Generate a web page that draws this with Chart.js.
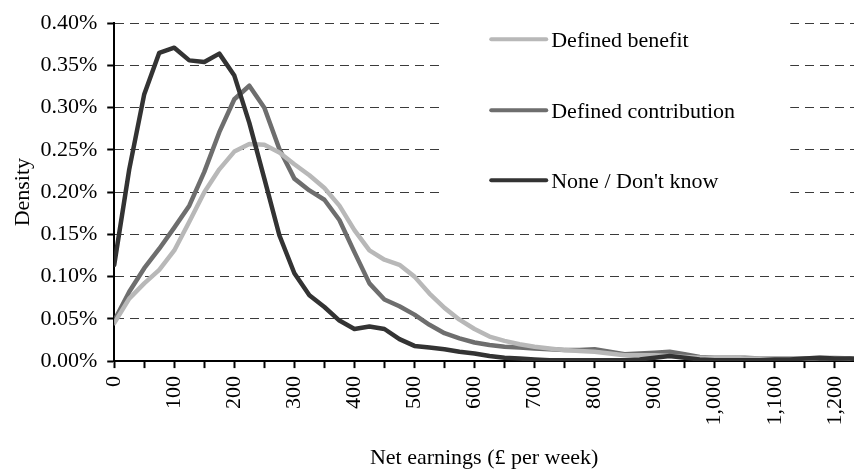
<!DOCTYPE html>
<html>
<head>
<meta charset="utf-8">
<script src="https://cdn.jsdelivr.net/npm/chart.js@4"></script>
<style>
  html, body { margin: 0; padding: 0; background: #fff; }
  #wrap { width: 854px; height: 471px; }
</style>
</head>
<body>
<div id="wrap"><canvas id="Chart" width="854" height="471"></canvas></div>
<script>
// net earnings, £ per week (bin points)
const earnings = [0, 25, 50, 75, 100, 125, 150, 175, 200, 225, 250, 275, 300, 325, 350, 375, 400,
  425, 450, 475, 500, 525, 550, 575, 600, 625, 650, 675, 700, 725, 750, 775, 800,
  825, 850, 875, 900, 925, 950, 975, 1000, 1025, 1050, 1075, 1100, 1125, 1150, 1175, 1200, 1225, 1250];

// density in %
const definedBenefit = [0.045, 0.074, 0.092, 0.108, 0.131, 0.165, 0.200, 0.227, 0.248, 0.257, 0.256, 0.247, 0.233, 0.220, 0.205, 0.184, 0.155,
  0.131, 0.120, 0.114, 0.100, 0.080, 0.063, 0.049, 0.038, 0.029, 0.024, 0.020, 0.017, 0.015, 0.013, 0.012, 0.011,
  0.009, 0.007, 0.007, 0.007, 0.006, 0.005, 0.004, 0.004, 0.004, 0.003, 0.003, 0.003, 0.003, 0.003, 0.004, 0.004, 0.003, 0.003];
const definedContribution = [0.048, 0.082, 0.110, 0.133, 0.158, 0.184, 0.224, 0.271, 0.310, 0.326, 0.300, 0.251, 0.216, 0.202, 0.191, 0.167, 0.129,
  0.092, 0.073, 0.065, 0.055, 0.043, 0.033, 0.027, 0.022, 0.019, 0.017, 0.016, 0.015, 0.014, 0.013, 0.013, 0.014,
  0.011, 0.008, 0.009, 0.010, 0.011, 0.008, 0.005, 0.004, 0.004, 0.004, 0.003, 0.003, 0.003, 0.003, 0.003, 0.003, 0.003, 0.003];
const noneDontKnow = [0.114, 0.227, 0.316, 0.365, 0.371, 0.356, 0.354, 0.364, 0.338, 0.282, 0.216, 0.149, 0.104, 0.078, 0.064, 0.048, 0.038,
  0.041, 0.038, 0.026, 0.018, 0.016, 0.014, 0.011, 0.009, 0.006, 0.004, 0.003, 0.002, 0.001, 0.001, 0.001, 0.001,
  0.001, 0.001, 0.002, 0.004, 0.006, 0.004, 0.002, 0.001, 0.001, 0.001, 0.001, 0.002, 0.002, 0.003, 0.004, 0.003, 0.003, 0.002];

const seriesNames = ['Defined benefit', 'Defined contribution', 'None / Don\'t know'];
const seriesColors = ['#b8b8b8', '#6e6e6e', '#333333'];

const yTicks = [0, 0.05, 0.10, 0.15, 0.20, 0.25, 0.30, 0.35, 0.40];

const serif = '"Liberation Serif", "Times New Roman", serif';

function toPoints(vals) {
  return vals.map((v, i) => ({x: earnings[i], y: v}));
}

// legend drawn inside the plot, white box hides grid lines behind it
const innerLegend = {
  id: 'innerLegend',
  beforeDatasetsDraw(chart) {
    const ctx = chart.ctx;
    const a = chart.chartArea;
    ctx.save();
    ctx.fillStyle = '#fff';
    ctx.fillRect(a.left + 326, a.top - 10, 350, 190);
    ctx.restore();
  },
  afterDraw(chart) {
    const ctx = chart.ctx;
    const a = chart.chartArea;
    const rows = [16, 87, 157];
    ctx.save();
    ctx.font = '22px ' + serif;
    ctx.textBaseline = 'middle';
    ctx.fillStyle = '#000';
    chart.data.datasets.forEach((ds, i) => {
      const y = a.top + rows[i];
      ctx.strokeStyle = ds.borderColor;
      ctx.lineWidth = 4;
      ctx.lineCap = 'round';
      ctx.beginPath();
      ctx.moveTo(a.left + 377, y);
      ctx.lineTo(a.left + 432, y);
      ctx.stroke();
      ctx.fillText(ds.label, a.left + 437, y + 2);
    });
    ctx.restore();
  }
};

let ctx = document.getElementById('Chart').getContext('2d');
let myChart = new Chart(ctx, {
  type: 'line',
  data: {
    datasets: [
      {label: seriesNames[0], data: toPoints(definedBenefit), borderColor: seriesColors[0], order: 1},
      {label: seriesNames[1], data: toPoints(definedContribution), borderColor: seriesColors[1], order: 2},
      {label: seriesNames[2], data: toPoints(noneDontKnow), borderColor: seriesColors[2], order: 0}
    ]
  },
  plugins: [innerLegend],
  options: {
    responsive: false,
    animation: false,
    devicePixelRatio: 1,
    layout: {padding: {top: 5, right: 0, left: 10, bottom: 0}},
    elements: {
      point: {radius: 0},
      line: {borderWidth: 4.5, tension: 0, borderJoinStyle: 'round', borderCapStyle: 'round', fill: false}
    },
    plugins: {
      legend: {display: false},
      tooltip: {enabled: false}
    },
    scales: {
      x: {
        type: 'linear',
        min: 0,
        max: 1232,
        afterFit: s => { s.paddingRight = 0; },
        border: {display: true, color: '#000', width: 2},
        grid: {drawOnChartArea: false, drawTicks: true, tickLength: 7, tickColor: '#000', tickWidth: 2},
        ticks: {
          stepSize: 50,
          includeBounds: false,
          autoSkip: false,
          minRotation: 90,
          maxRotation: 90,
          padding: 8,
          color: '#000',
          font: {family: serif, size: 22},
          callback: v => (v % 100 === 0 ? v.toLocaleString('en-US') : '')
        },
        title: {display: true, text: 'Net earnings (£ per week)', color: '#000',
          font: {family: serif, size: 22}, padding: {top: 11, bottom: 0}}
      },
      y: {
        min: 0,
        max: 0.4,
        afterBuildTicks: s => { s.ticks = yTicks.map(v => ({value: v})); },
        border: {display: true, color: '#000', width: 2, dash: [9, 6]},
        grid: {color: '#3a3a3a', lineWidth: 1, drawTicks: true, tickLength: 7, tickColor: '#000', tickWidth: 2, tickBorderDash: []},
        ticks: {
          padding: 10,
          color: '#000',
          font: {family: serif, size: 22},
          callback: v => v.toFixed(2) + '%'
        },
        title: {display: true, text: 'Density', color: '#000',
          font: {family: serif, size: 22}, padding: {top: 0, bottom: -6}}
      }
    }
  }
});
</script>
</body>
</html>
